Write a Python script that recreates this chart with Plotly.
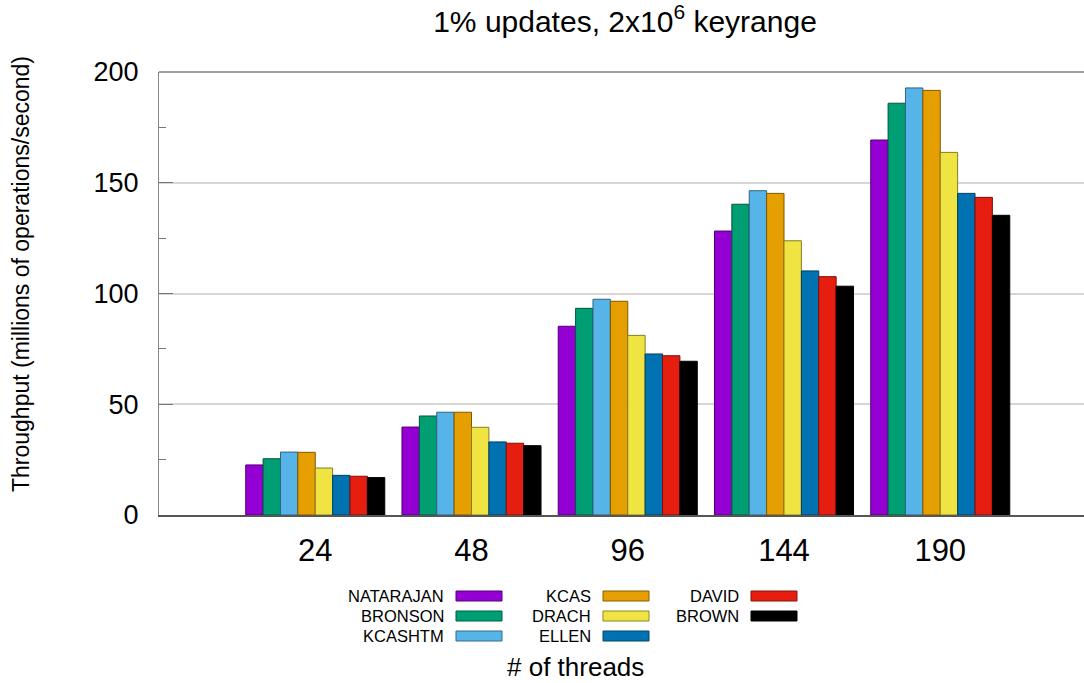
import plotly.graph_objects as go

threads = ["24", "48", "96", "144", "190"]
series_names = ["NATARAJAN", "BRONSON", "KCASHTM", "KCAS", "DRACH", "ELLEN", "DAVID", "BROWN"]
natarajan = [22.6, 39.7, 85.2, 128.2, 169.3]
bronson = [25.4, 44.7, 93.3, 140.3, 185.9]
kcashtm = [28.4, 46.4, 97.4, 146.4, 192.8]
kcas = [28.3, 46.4, 96.5, 145.2, 191.7]
drach = [21.2, 39.6, 81.1, 123.8, 163.7]
ellen = [17.9, 33.0, 72.7, 110.2, 145.2]
david = [17.5, 32.4, 71.9, 107.6, 143.4]
brown = [16.9, 31.3, 69.4, 103.3, 135.3]
series_values = [natarajan, bronson, kcashtm, kcas, drach, ellen, david, brown]
y_ticks = [0, 50, 100, 150, 200]

colors = ["#9400D3", "#009E73", "#56B4E9", "#E69F00", "#F0E442", "#0072B2", "#E51E10", "#000000"]


def darken(hex_color, f=0.55):
    h = hex_color.lstrip("#")
    r, g, b = (int(h[i:i + 2], 16) for i in (0, 2, 4))
    return "rgb(%d,%d,%d)" % (r * f, g * f, b * f)


FONT = "Liberation Sans, Arial, sans-serif"
W, H = 1084, 683
L, R, T, B = 159, 0, 72, 168
pw, ph = W - L - R, H - T - B

fig = go.Figure()
for name, vals, col in zip(series_names, series_values, colors):
    fig.add_trace(go.Bar(
        x=threads, y=vals, name=name,
        marker=dict(color=col, line=dict(color=darken(col), width=1)),
        showlegend=False,
    ))


def px_x(px):
    return (px - L) / pw


def px_y(py):
    return (H - B - py) / ph


# Manual legend (text right-aligned, sample to its right), built from series lists
shapes = []
annotations = []
col_text_right = [446, 593, 741]
row_y = [596, 616, 636]
for i, (name, col) in enumerate(zip(series_names, colors)):
    c, r = divmod(i, 3)
    tx = col_text_right[c]
    ty = row_y[r]
    annotations.append(dict(
        x=px_x(tx), y=px_y(ty), xref="paper", yref="paper",
        text=name, showarrow=False, xanchor="right", yanchor="middle",
        font=dict(family=FONT, size=16.5, color="#000000"),
    ))
    shapes.append(dict(
        type="rect", xref="paper", yref="paper",
        x0=px_x(tx + 10), x1=px_x(tx + 56), y0=px_y(ty - 5), y1=px_y(ty + 5),
        fillcolor=col, line=dict(color=darken(col, 0.6), width=1),
    ))

# top border line
shapes.append(dict(type="line", xref="paper", yref="paper", x0=0, x1=1, y0=1, y1=1,
                   line=dict(color="#a0a0a0", width=2)))

annotations.append(dict(
    x=px_x(21), y=px_y(274), xref="paper", yref="paper",
    text="Throughput (millions of operations/second)", showarrow=False,
    textangle=-90, xanchor="center", yanchor="middle",
    font=dict(family=FONT, size=23, color="#000000"),
))
annotations.append(dict(
    x=px_x(575), y=px_y(667), xref="paper", yref="paper",
    text="# of threads", showarrow=False, xanchor="center", yanchor="middle",
    font=dict(family=FONT, size=26, color="#000000"),
))

fig.update_layout(
    width=W, height=H,
    margin=dict(l=L, r=R, t=T, b=B, pad=0),
    paper_bgcolor="white", plot_bgcolor="white",
    barmode="group", bargap=0.11, bargroupgap=0,
    title=dict(text="1% updates, 2x10<sup>6</sup> keyrange", x=px_x(625), xref="paper",
               y=1 - 21 / H, yref="container", xanchor="center", yanchor="middle",
               font=dict(family=FONT, size=30, color="#000000")),
    shapes=shapes, annotations=annotations,
    xaxis=dict(
        type="category", range=[-1, 4.92],
        showline=True, linecolor="#555555", linewidth=1.5,
        ticks="", showgrid=False,
        tickfont=dict(family=FONT, size=31, color="#000000"),
        ticklabelstandoff=7,
    ),
    yaxis=dict(
        range=[0, 200], tickvals=y_ticks,
        showline=True, linecolor="#888888", linewidth=1,
        ticks="inside", ticklen=14, tickcolor="#777777", tickwidth=1,
        minor=dict(ticks="inside", ticklen=7, tickcolor="#777777", dtick=25, showgrid=False),
        showgrid=True, gridcolor="#d6d6d6", gridwidth=1.5,
        zeroline=False,
        tickfont=dict(family=FONT, size=27, color="#000000"),
        ticklabelstandoff=14,
    ),
)

fig.write_html("out.html")
